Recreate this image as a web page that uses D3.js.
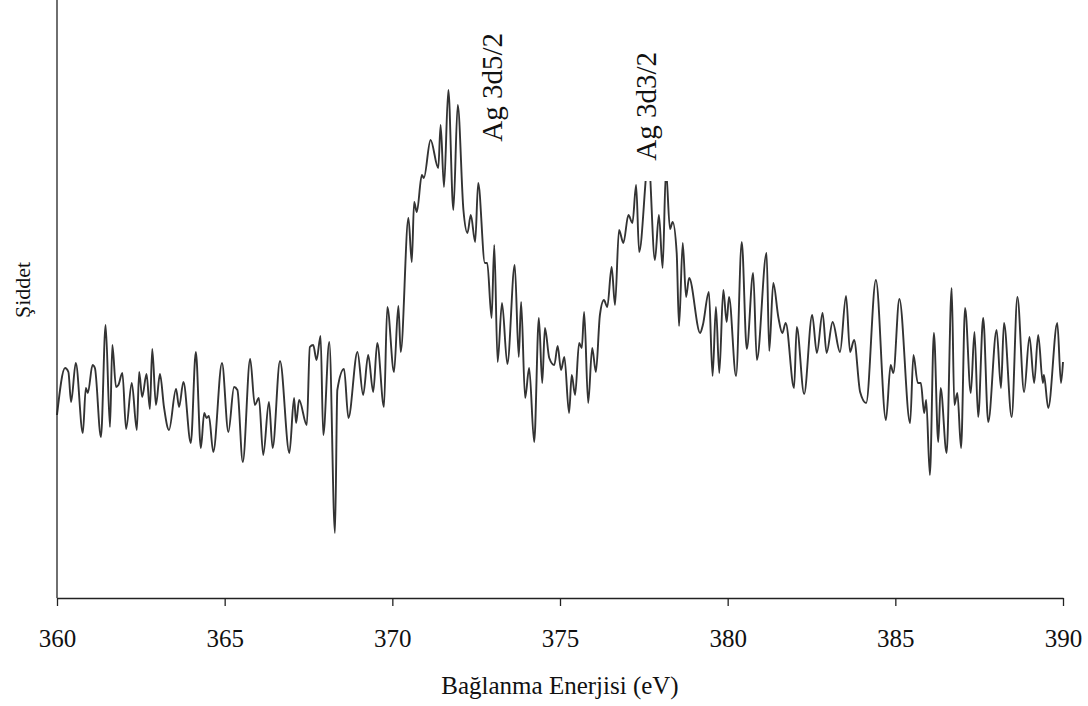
<!DOCTYPE html>
<html>
<head>
<meta charset="utf-8">
<script src="https://cdn.jsdelivr.net/npm/d3@7"></script>
<style>
  html, body { margin: 0; padding: 0; background: #fff; }
  svg { display: block; }
</style>
</head>
<body>
<svg id="chart" width="1088" height="706"></svg>
<script>
// Ag 3d XPS spectrum: binding energy (eV) and intensity (arb. units)
const energy = [
  360.00, 360.24, 360.34, 360.42, 360.56, 360.77, 360.86, 360.92, 361.06, 361.13,
  361.31, 361.45, 361.58, 361.65, 361.76, 361.83, 361.95, 362.06, 362.23, 362.38,
  362.45, 362.54, 362.67, 362.77, 362.84, 362.95, 363.07, 363.19, 363.34, 363.55,
  363.64, 363.77, 363.99, 364.14, 364.29, 364.39, 364.46, 364.53, 364.66, 364.92,
  365.11, 365.28, 365.38, 365.54, 365.76, 365.90, 366.02, 366.15, 366.32, 366.43,
  366.65, 366.93, 367.07, 367.13, 367.22, 367.45, 367.54, 367.64, 367.74, 367.86,
  367.94, 368.12, 368.29, 368.36, 368.56, 368.69, 368.96, 369.13, 369.28, 369.43,
  369.55, 369.75, 369.85, 370.05, 370.18, 370.25, 370.48, 370.58, 370.65, 370.73,
  370.88, 370.94, 371.14, 371.37, 371.44, 371.54, 371.67, 371.82, 371.95, 372.12,
  372.24, 372.34, 372.47, 372.56, 372.76, 372.83, 372.96, 373.04, 373.14, 373.27,
  373.43, 373.65, 373.77, 373.84, 373.96, 374.08, 374.23, 374.37, 374.47, 374.55,
  374.68, 374.83, 374.93, 375.03, 375.13, 375.27, 375.35, 375.45, 375.57, 375.65,
  375.72, 375.84, 375.96, 376.07, 376.19, 376.31, 376.41, 376.54, 376.64, 376.76,
  376.89, 377.04, 377.16, 377.27, 377.36, 377.64, 377.83, 377.95, 378.06, 378.16,
  378.28, 378.36, 378.48, 378.55, 378.66, 378.76, 378.85, 379.18, 379.26, 379.44,
  379.55, 379.65, 379.75, 379.87, 379.97, 380.04, 380.25, 380.42, 380.57, 380.76,
  380.87, 381.16, 381.24, 381.36, 381.51, 381.63, 381.73, 381.98, 382.06, 382.28,
  382.52, 382.66, 382.83, 382.95, 383.13, 383.35, 383.53, 383.65, 383.77, 383.95,
  384.13, 384.42, 384.72, 384.86, 384.94, 385.12, 385.44, 385.54, 385.67, 385.76,
  385.86, 385.92, 386.03, 386.15, 386.28, 386.35, 386.53, 386.68, 386.76, 386.85,
  386.96, 387.08, 387.25, 387.36, 387.47, 387.62, 387.77, 388.02, 388.15, 388.24,
  388.47, 388.64, 388.84, 389.00, 389.14, 389.26, 389.40, 389.43, 389.56, 389.83,
  389.94, 390.00
];

const intensity = [
  183, 230, 226, 196, 235, 165, 210, 205, 233, 230,
  161, 273, 171, 253, 211, 213, 225, 169, 215, 168,
  226, 201, 224, 189, 249, 193, 224, 191, 168, 209,
  191, 216, 155, 246, 150, 185, 180, 182, 146, 235,
  166, 211, 208, 136, 239, 193, 200, 143, 196, 150,
  237, 145, 200, 175, 198, 173, 251, 253, 238, 262,
  163, 256, 65, 208, 229, 180, 246, 203, 243, 206,
  255, 191, 291, 226, 292, 246, 380, 336, 396, 386,
  423, 420, 458, 430, 473, 411, 508, 388, 493, 388,
  365, 383, 356, 415, 335, 335, 280, 353, 236, 295,
  234, 333, 241, 296, 200, 230, 156, 280, 215, 270,
  240, 233, 252, 228, 241, 185, 223, 203, 255, 250,
  286, 195, 250, 226, 283, 298, 291, 331, 293, 368,
  355, 383, 375, 413, 346, 438, 338, 383, 330, 428,
  369, 376, 345, 272, 355, 301, 320, 265, 273, 306,
  222, 291, 225, 308, 276, 301, 222, 356, 249, 325,
  238, 345, 247, 315, 281, 265, 275, 210, 271, 204,
  283, 245, 285, 245, 276, 246, 302, 246, 258, 206,
  195, 318, 178, 233, 225, 299, 175, 243, 215, 215,
  185, 198, 123, 265, 156, 210, 145, 310, 193, 205,
  150, 290, 205, 266, 181, 280, 176, 268, 210, 275,
  181, 301, 206, 261, 215, 263, 215, 223, 190, 275,
  215, 236
];

const xTicks = [360, 365, 370, 375, 380, 385, 390];
const xTitle = "Bağlanma Enerjisi (eV)";
const yTitle = "Şiddet";
const peakLabels = ["Ag 3d5/2", "Ag 3d3/2"];
const peakEnergies = [373.0, 377.6];

const margin = { top: 0, left: 57, right: 25, bottom: 108 };
const W = 1088, H = 706;
const innerW = W - margin.left - margin.right;
const innerH = H - margin.top - margin.bottom;

const svg = d3.select("#chart");
const g = svg.append("g").attr("transform", `translate(${margin.left},${margin.top})`);

const x = d3.scaleLinear().domain([360, 390]).range([0, innerW]);
const y = d3.scaleLinear().domain([0, 598]).range([innerH, 0]);

const fontFamily = "'Liberation Serif', 'Times New Roman', serif";

// spectrum trace
const points = energy.map((e, i) => [e, intensity[i]]);
const line = d3.line()
  .x(d => x(d[0]))
  .y(d => y(d[1]))
  .curve(d3.curveMonotoneX);

g.append("path")
  .datum(points)
  .attr("fill", "none")
  .attr("stroke", "#333")
  .attr("stroke-width", 1.9)
  .attr("stroke-linejoin", "round")
  .attr("d", line);

// peak labels sit in white text boxes above the trace
const labelTop = [33, 52];
peakLabels.forEach((txt, i) => {
  const bx = x(peakEnergies[i]);
  if (i === 1) {
    g.append("rect")
      .attr("x", bx - 13)
      .attr("y", labelTop[i] - 10)
      .attr("width", 36)
      .attr("height", 139)
      .attr("fill", "#fff");
  }
  g.append("text")
    .attr("transform", `translate(${bx + 9},${labelTop[i]}) rotate(-90)`)
    .attr("text-anchor", "end")
    .attr("font-family", fontFamily)
    .attr("font-size", 29)
    .attr("fill", "#111")
    .text(txt);
});

// y axis: plain line, no ticks
g.append("line")
  .attr("x1", 0).attr("x2", 0)
  .attr("y1", 0).attr("y2", innerH)
  .attr("stroke", "#222")
  .attr("stroke-width", 1.3);

// x axis
const xAxis = d3.axisBottom(x)
  .tickValues(xTicks)
  .tickFormat(d3.format("d"))
  .tickSize(8)
  .tickSizeOuter(0)
  .tickPadding(23);

const ax = g.append("g")
  .attr("transform", `translate(0,${innerH})`)
  .call(xAxis);
ax.select(".domain").attr("stroke", "#222").attr("stroke-width", 1.3);
ax.selectAll(".tick line").attr("stroke", "#222").attr("stroke-width", 1.3);
ax.selectAll(".tick text")
  .attr("font-family", fontFamily)
  .attr("font-size", 25)
  .attr("fill", "#111");

// axis titles
svg.append("text")
  .attr("x", margin.left + innerW / 2)
  .attr("y", 694)
  .attr("text-anchor", "middle")
  .attr("font-family", fontFamily)
  .attr("font-size", 25)
  .attr("fill", "#111")
  .text(xTitle);

svg.append("text")
  .attr("transform", "translate(30,290) rotate(-90)")
  .attr("text-anchor", "middle")
  .attr("font-family", fontFamily)
  .attr("font-size", 22)
  .attr("fill", "#111")
  .text(yTitle);
</script>
</body>
</html>
